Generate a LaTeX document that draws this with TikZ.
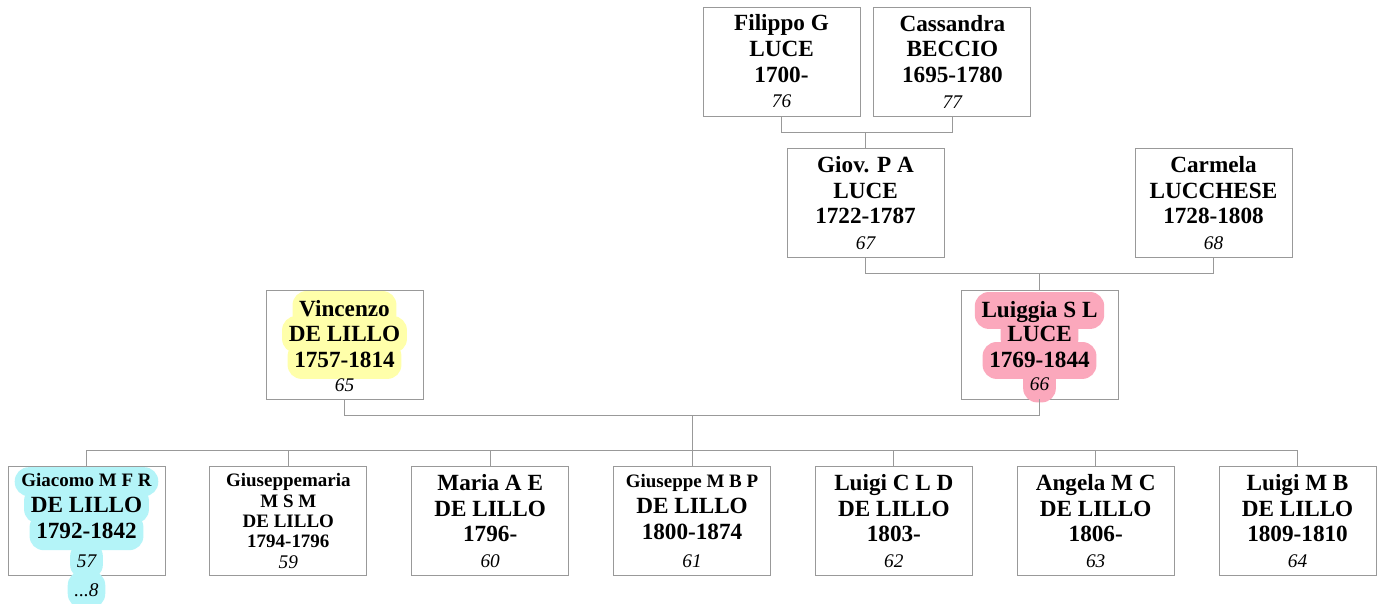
\documentclass[tikz,border=0pt]{standalone}
\usepackage{fontspec}
\setmainfont{Liberation Serif}
\usetikzlibrary{positioning}
\definecolor{frame}   {HTML}{999999}
\definecolor{hlYellow}{HTML}{FFFFAA}
\definecolor{hlPink}  {HTML}{FBA8BC}
\definecolor{hlCyan}  {HTML}{B4F4F8}
\newcommand{\pid}[1]{{\fontsize{11}{13}\selectfont\mdseries\itshape #1}}
\newcommand{\smname}[1]{{\fontsize{10.8}{12}\selectfont #1}}

\begin{document}
\begin{tikzpicture}[x=0.02cm, y=-0.02cm,
      node distance=0.26cm and 0.88cm,
      big/.style  ={font=\fontsize{13.2}{14.6}\selectfont\bfseries},
      small/.style={font=\fontsize{10.8}{11.6}\selectfont\bfseries},
      pbox/.style ={draw=frame, line width=0.5pt, fill=white, inner sep=0pt,
                    align=center, minimum width=3.14cm, minimum height=2.18cm, big},
      hl/.style   ={rounded corners=8pt, inner xsep=3.8pt, inner ysep=2pt,
                    text height=12.5pt, text depth=4.5pt, anchor=base, text opacity=0},
      hlsmall/.style={text height=9pt, text depth=3.5pt},
      hlY/.style  ={hl, fill=hlYellow},
      hlP/.style  ={hl, fill=hlPink},
      hlC/.style  ={hl, fill=hlCyan},
      ontop/.style={anchor=base, inner sep=0pt},
      link/.style ={draw=frame, line width=0.5pt}]

    \useasboundingbox (0,0) rectangle (1382,604);

    % grandparents and parents
    \node[pbox] (fil) at (781.5,61.5) {Filippo G\\LUCE\\1700-\\\pid{76}};
    \node[pbox, right=0.26cm of fil] (cas) {Cassandra\\BECCIO\\1695-1780\\\pid{77}};
    \node[pbox] (giov) at (865.5,203) {Giov. P A\\LUCE\\1722-1787\\\pid{67}};
    \node[pbox] (carm) at (1213.5,203) {Carmela\\LUCCHESE\\1728-1808\\\pid{68}};
    \node[pbox] (vinc) at (344.5,344.5) {};
    \node[pbox] (luig) at (1039.5,344.5) {};

    % children
    \node[pbox] (giac) at (86.5,521) {};
    \node[pbox, small, right=of giac] (gmar) {Giuseppemaria\\M S M\\DE LILLO\\1794-1796\\\pid{59}};
    \node[pbox, right=of gmar] (mari) {Maria A E\\DE LILLO\\1796-\\\pid{60}};
    \node[pbox, right=of mari] (gius) {\smname{Giuseppe M B P}\\DE LILLO\\1800-1874\\[1.5pt]\pid{61}};
    \node[pbox, right=of gius] (luci) {Luigi C L D\\DE LILLO\\1803-\\\pid{62}};
    \node[pbox, right=of luci] (ange) {Angela M C\\DE LILLO\\1806-\\\pid{63}};
    \node[pbox, right=of ange] (lumb) {Luigi M B\\DE LILLO\\1809-1810\\\pid{64}};

    % highlight fills first, the words go on top afterwards
    \node[hlY, big] (vinc-a) at ([yshift=0.56cm]vinc.center) {Vincenzo};
    \node[hlY, big] (vinc-b) at ([yshift=0.06cm]vinc.center) {DE LILLO};
    \node[hlY, big] (vinc-c) at ([yshift=-0.46cm]vinc.center) {1757-1814};

    \node[hlP, big] (luig-a) at ([yshift=0.54cm]luig.center) {Luiggia S L};
    \node[hlP, big] (luig-b) at ([yshift=0.06cm]luig.center) {LUCE};
    \node[hlP, big] (luig-c) at ([yshift=-0.46cm]luig.center) {1769-1844};
    \node[hlP] (luig-d) at ([yshift=-0.93cm]luig.center) {\pid{66}};

    \node[hlC, small, hlsmall] (giac-a) at ([yshift=0.69cm]giac.center) {Giacomo M F R};
    \node[hlC, big] (giac-b) at ([yshift=0.18cm]giac.center) {DE LILLO};
    \node[hlC, big] (giac-c) at ([yshift=-0.355cm]giac.center) {1792-1842};
    \node[hlC] (giac-d) at ([yshift=-0.93cm]giac.center) {\pid{57}};
    \node[hlC] (giac-more) at ([yshift=-1.51cm]giac.center) {\pid{...8}};

    \node[ontop, big] (vinc-at) at (vinc-a.base) {Vincenzo};
    \node[ontop, big] (vinc-bt) at (vinc-b.base) {DE LILLO};
    \node[ontop, big] (vinc-ct) at (vinc-c.base) {1757-1814};
    \node[ontop] (vinc-dt) at ([yshift=-0.95cm]vinc.center) {\pid{65}};

    \node[ontop, big] (luig-at) at (luig-a.base) {Luiggia S L};
    \node[ontop, big] (luig-bt) at (luig-b.base) {LUCE};
    \node[ontop, big] (luig-ct) at (luig-c.base) {1769-1844};
    \node[ontop] (luig-dt) at (luig-d.base) {\pid{66}};

    \node[ontop, small] (giac-at) at (giac-a.base) {Giacomo M F R};
    \node[ontop, big] (giac-bt) at (giac-b.base) {DE LILLO};
    \node[ontop, big] (giac-ct) at (giac-c.base) {1792-1842};
    \node[ontop] (giac-dt) at (giac-d.base) {\pid{57}};
    \node[ontop] (giac-mt) at (giac-more.base) {\pid{...8}};

    % family lines
    \draw[link] (fil.south) -- ++(0,16) -| (cas.south);
    \draw[link] (giov.north) -- ++(0,-16);
    \draw[link] (giov.south) -- ++(0,16) -| (carm.south);
    \draw[link] (luig.north) -- ++(0,-16);
    \draw[link] (vinc.south) -- ++(0,16) -| (luig.south);
    \draw[link] (gius.north) -- ++(0,-50);
    \draw[link] (giac.north) -- ++(0,-16) -| (lumb.north);
    \foreach \k in {gmar, mari, luci, ange}
      \draw[link] (\k.north) -- ++(0,-16);
\end{tikzpicture}
\end{document}
